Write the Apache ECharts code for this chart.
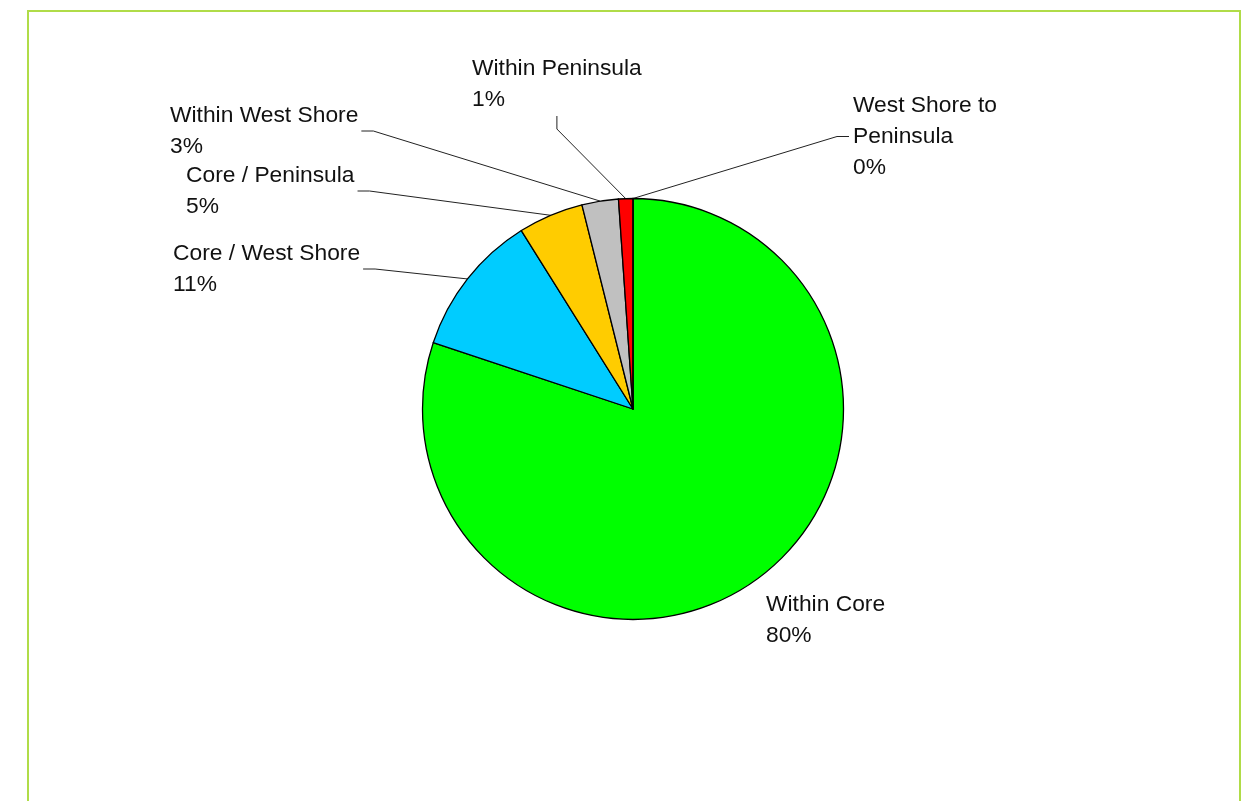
<!DOCTYPE html>
<html>
<head>
<meta charset="utf-8">
<script src="https://cdn.jsdelivr.net/npm/echarts@6/dist/echarts.min.js"></script>
<style>
  html, body { margin: 0; padding: 0; background: #ffffff; }
  #chart { width: 1248px; height: 801px; }
</style>
</head>
<body>
<div id="chart"></div>
<script>
// Trip shares by origin / destination area
const categories = [
  'Within Core',
  'Core / West Shore',
  'Core / Peninsula',
  'Within West Shore',
  'Within Peninsula',
  'West Shore to Peninsula'
];
const shares = [80.1, 11.0, 5.0, 2.8, 1.1, 0];
const sliceColors = ['#00ff00', '#00ccff', '#ffcc00', '#c0c0c0', '#ff0000', '#9999ff'];

// Pie geometry
const CENTER = [633, 409];
const RADIUS = 210.5;

// Top-left corner of each label block and the side its leader line leaves from
const labelSpots = [
  { x: 766, y: 589, side: 'none' },
  { x: 173, y: 238, side: 'left' },
  { x: 186, y: 160, side: 'left' },
  { x: 170, y: 100, side: 'left' },
  { x: 472, y: 53,  side: 'top' },
  { x: 853, y: 90,  side: 'right' }
];

const total = shares.reduce((a, b) => a + b, 0);

// Point on the rim at the middle of slice i (slices run clockwise from 12 o'clock)
function rimPoint(i) {
  let before = 0;
  for (let k = 0; k < i; k++) before += shares[k];
  const frac = (before + shares[i] / 2) / total;
  const a = frac * 2 * Math.PI;
  return [CENTER[0] + RADIUS * Math.sin(a), CENTER[1] - RADIUS * Math.cos(a)];
}

const chart = echarts.init(document.getElementById('chart'), null, { renderer: 'canvas' });

const data = categories.map((name, i) => {
  const item = {
    name: name,
    value: shares[i],
    itemStyle: { color: sliceColors[i] }
  };
  if (labelSpots[i].side === 'none') item.labelLine = { show: false };
  if (i === 5) item.label = { width: 155, overflow: 'break' };
  return item;
});

chart.setOption({
  animation: false,
  backgroundColor: '#ffffff',
  graphic: [
    {
      type: 'polyline',
      silent: true,
      shape: { points: [[28, 830], [28, 11], [1240, 11], [1240, 830]] },
      style: { stroke: '#b0dc48', lineWidth: 2, fill: null }
    }
  ],
  series: [
    {
      type: 'pie',
      center: CENTER,
      radius: RADIUS,
      startAngle: 90,
      clockwise: true,
      avoidLabelOverlap: false,
      data: data,
      itemStyle: { borderColor: '#000000', borderWidth: 1.3 },
      emphasis: { disabled: true },
      label: {
        show: true,
        position: 'outside',
        color: '#111111',
        fontFamily: 'Liberation Sans, Arial, sans-serif',
        fontSize: 22.8,
        lineHeight: 31,
        formatter: p => p.name + '\n' + Math.round(p.percent) + '%'
      },
      labelLine: {
        show: true,
        lineStyle: { color: '#222222', width: 1 }
      },
      labelLayout: function (params) {
        const i = params.dataIndex;
        const s = labelSpots[i];
        const w = params.labelRect.width;
        const h = params.labelRect.height;
        const rim = rimPoint(i);
        const out = { x: s.x, y: s.y, align: 'left', verticalAlign: 'top' };
        if (s.side === 'left') {
          const yy = s.y + h / 2;
          out.labelLinePoints = [rim, [s.x + w + 15, yy], [s.x + w + 3, yy]];
        } else if (s.side === 'right') {
          const yy = s.y + h / 2;
          out.labelLinePoints = [rim, [s.x - 16, yy], [s.x - 4, yy]];
        } else if (s.side === 'top') {
          const xx = s.x + w / 2;
          out.labelLinePoints = [rim, [xx, s.y + h + 14], [xx, s.y + h + 1]];
        }
        return out;
      }
    }
  ]
});
</script>
</body>
</html>
